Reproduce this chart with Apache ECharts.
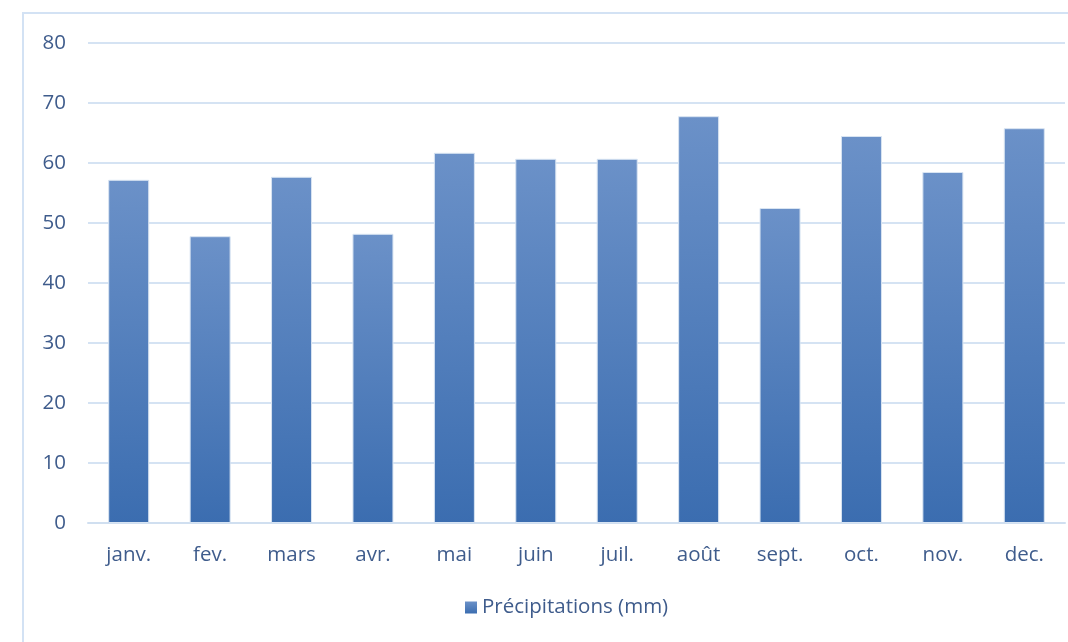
<!DOCTYPE html>
<html>
<head>
<meta charset="utf-8">
<script src="https://cdn.jsdelivr.net/npm/echarts@6/dist/echarts.min.js"></script>
<style>
  html, body { margin: 0; padding: 0; background: #fff; }
  #chart { width: 1068px; height: 642px; }
</style>
</head>
<body>
<div id="chart"></div>
<script>
var months = ['janv.', 'fev.', 'mars', 'avr.', 'mai', 'juin', 'juil.', 'août', 'sept.', 'oct.', 'nov.', 'dec.'];
var precip = [57.2, 47.8, 57.7, 48.2, 61.7, 60.7, 60.7, 67.8, 52.5, 64.5, 58.5, 65.8];
var seriesName = 'Précipitations (mm)';

var textColor = '#3f5c8c';
var font = '"Open Sans", "Liberation Sans", sans-serif';

var chart = echarts.init(document.getElementById('chart'));

var option = {
  animation: false,
  graphic: [{
    type: 'rect',
    shape: { x: 23, y: 13, width: 1100, height: 700 },
    style: { fill: 'none', stroke: '#d3e2f4', lineWidth: 2 },
    silent: true
  }],
  grid: { left: 88, right: 3, top: 43, bottom: 119 },
  legend: {
    bottom: 19,
    left: 460,
    icon: 'rect',
    itemWidth: 12,
    itemHeight: 12,
    itemGap: 6,
    itemStyle: { borderWidth: 0 },
    textStyle: { color: textColor, fontSize: 20.5, fontFamily: font },
    data: [seriesName]
  },
  xAxis: {
    type: 'category',
    data: months,
    axisLine: { show: true, lineStyle: { color: '#d0dff0', width: 2 } },
    axisTick: { show: false },
    axisLabel: { color: textColor, fontSize: 20.5, fontFamily: font, margin: 22 }
  },
  yAxis: {
    type: 'value',
    min: 0,
    max: 80,
    interval: 10,
    axisLine: { show: false },
    axisTick: { show: false },
    splitLine: { lineStyle: { color: '#d5e3f3', width: 2 } },
    axisLabel: { color: textColor, fontSize: 20.5, fontFamily: font, margin: 22 }
  },
  series: [{
    name: seriesName,
    type: 'bar',
    data: precip,
    barWidth: 41,
    itemStyle: {
      color: new echarts.graphic.LinearGradient(0, 0, 0, 1, [
        { offset: 0, color: '#6b91c8' },
        { offset: 1, color: '#3b6db0' }
      ]),
      borderColor: '#d8e4f2',
      borderWidth: 1
    }
  }]
};

chart.setOption(option);
</script>
</body>
</html>
